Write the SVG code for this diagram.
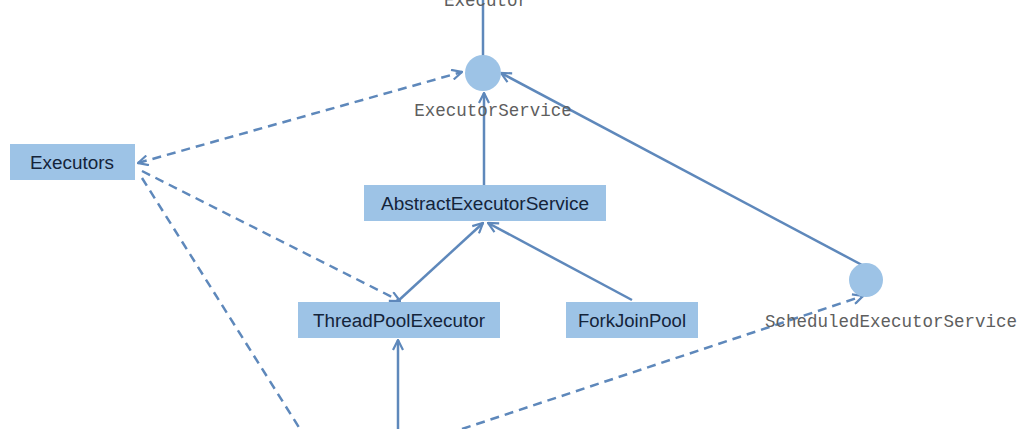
<svg xmlns="http://www.w3.org/2000/svg" width="1022" height="429" viewBox="0 0 1022 429">
<style>
.box{fill:#9dc3e6;}
.lbl{font-family:"Liberation Sans",Arial,sans-serif;font-size:18px;fill:#14243a;text-anchor:middle;}
.cl{font-family:"Liberation Mono","Courier New",monospace;font-size:17.5px;fill:#5e5e5e;text-anchor:middle;}
.ln{stroke:#5e88bb;stroke-width:2.5;fill:none;}
.dash{stroke-dasharray:9 6;}
</style>
<defs>
<marker id="ah" viewBox="0 0 12 12" refX="11" refY="6" markerWidth="12" markerHeight="12" markerUnits="userSpaceOnUse" orient="auto-start-reverse">
<path d="M1,1 L11,6 L1,11" fill="none" stroke="#5e88bb" stroke-width="2.2"/>
</marker>
</defs>
<g id="connectors">
<line class="ln" x1="483" y1="0" x2="483" y2="56"/>
<line class="ln" x1="484" y1="185" x2="484" y2="93" marker-end="url(#ah)"/>
<line class="ln" x1="862" y1="265" x2="501" y2="73" marker-end="url(#ah)"/>
<line class="ln" x1="398" y1="301" x2="483" y2="223" marker-end="url(#ah)"/>
<line class="ln" x1="632" y1="300" x2="488" y2="223" marker-end="url(#ah)"/>
<line class="ln" x1="398" y1="429" x2="398" y2="340" marker-end="url(#ah)"/>
<line class="ln dash" x1="138" y1="163" x2="462" y2="72" marker-start="url(#ah)" marker-end="url(#ah)"/>
<line class="ln dash" x1="142" y1="171" x2="400" y2="301" marker-end="url(#ah)"/>
<line class="ln dash" x1="142" y1="178" x2="300" y2="429"/>
<line class="ln dash" x1="462" y1="429" x2="863" y2="296" marker-end="url(#ah)"/>
</g>
<g id="Executor">
<text class="cl" x="486" y="6">Executor</text>
</g>
<g id="ExecutorService">
<circle cx="483" cy="73" r="18" fill="#9dc3e6"/>
<text class="cl" x="493" y="116">ExecutorService</text>
</g>
<g id="ScheduledExecutorService">
<circle cx="866" cy="280" r="17" fill="#9dc3e6"/>
<text class="cl" x="891" y="327">ScheduledExecutorService</text>
</g>
<g id="Executors">
<rect class="box" x="10" y="144" width="125" height="36"/>
<text class="lbl" x="72" y="169" textLength="84" lengthAdjust="spacingAndGlyphs">Executors</text>
</g>
<g id="AbstractExecutorService">
<rect class="box" x="364" y="185" width="242" height="36"/>
<text class="lbl" x="485" y="210" textLength="208" lengthAdjust="spacingAndGlyphs">AbstractExecutorService</text>
</g>
<g id="ThreadPoolExecutor">
<rect class="box" x="298" y="302" width="202" height="36"/>
<text class="lbl" x="399" y="327" textLength="172" lengthAdjust="spacingAndGlyphs">ThreadPoolExecutor</text>
</g>
<g id="ForkJoinPool">
<rect class="box" x="566" y="302" width="132" height="36"/>
<text class="lbl" x="632" y="327" textLength="108" lengthAdjust="spacingAndGlyphs">ForkJoinPool</text>
</g>
</svg>
